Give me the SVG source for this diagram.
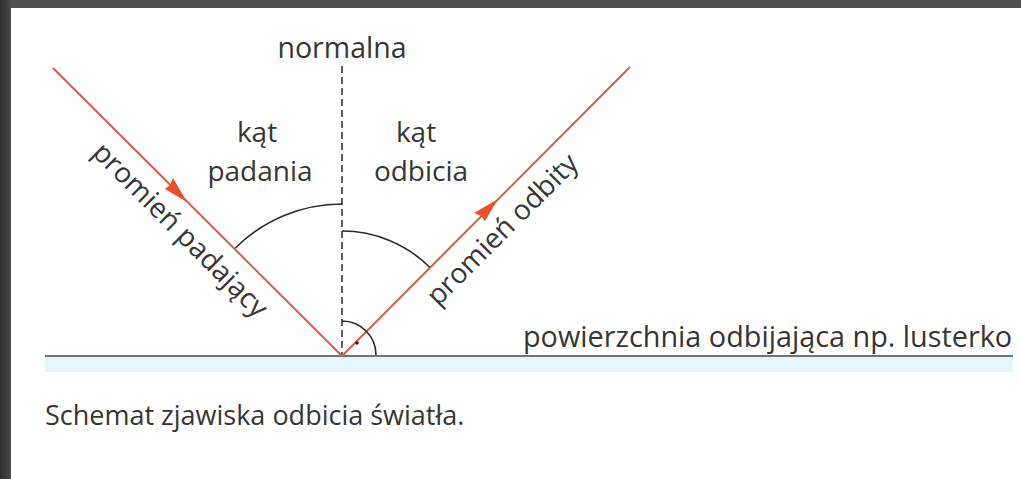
<svg xmlns="http://www.w3.org/2000/svg" width="1021" height="479" viewBox="0 0 1021 479">
  <defs>
    <linearGradient id="edge" x1="0" y1="0" x2="1" y2="0">
      <stop offset="0" stop-color="#2e2e2e"/>
      <stop offset="1" stop-color="#4a4a4a"/>
    </linearGradient>
    <style>
      .lbl { font-family: "Open Sans", "Noto Sans", sans-serif; font-size: 28px; fill: #363636; }
      .ray { stroke: #d0604a; stroke-width: 2; fill: none; }
      .arc { stroke: #2b2b2b; stroke-width: 1.6; fill: none; }
      .head { fill: #e8502a; }
    </style>
  </defs>
  <rect width="1021" height="479" fill="#ffffff"/>
  <rect x="0" y="0" width="1021" height="8" fill="#505050"/>
  <rect x="0" y="0" width="11" height="479" fill="url(#edge)"/>

  <g id="surface">
    <rect x="45" y="357" width="968" height="15" fill="#e4f5fb"/>
    <line x1="45" y1="356" x2="1013" y2="356" stroke="#444444" stroke-width="1.6"/>
    <text class="lbl" x="523" y="347" style="font-size:28.8px">powierzchnia odbijająca np. lusterko</text>
  </g>

  <g id="normal">
    <line x1="342" y1="66" x2="342" y2="355" stroke="#3a3a3a" stroke-width="1.6" stroke-dasharray="7 4"/>
    <text class="lbl" x="342" y="58" text-anchor="middle" style="font-size:28.5px">normalna</text>
  </g>

  <g id="connectors">
    <line class="ray" x1="53" y1="68" x2="342" y2="356"/>
    <path class="head" d="M187,202 L165,189 L170,185 L173,178 Z"/>
    <line class="ray" x1="342" y1="356" x2="630" y2="67"/>
    <path class="head" d="M498,199 L485,221 L481,216 L474,213 Z"/>
  </g>

  <g id="angle-incidence">
    <path class="arc" d="M342,204 A151,151 0 0 0 235.2,248.2"/>
    <text class="lbl" x="257" y="142" text-anchor="middle">kąt</text>
    <text class="lbl" x="260" y="181" text-anchor="middle">padania</text>
  </g>

  <g id="angle-reflection">
    <path class="arc" d="M342,231 A124,124 0 0 1 429.7,267.3"/>
    <text class="lbl" x="416" y="142" text-anchor="middle">kąt</text>
    <text class="lbl" x="421" y="181" text-anchor="middle">odbicia</text>
  </g>

  <g id="right-angle">
    <path class="arc" d="M342,321 A34,34 0 0 1 376,355"/>
    <circle cx="357" cy="343" r="1.8" fill="#222222"/>
  </g>

  <g id="incident-ray-label">
    <text class="lbl" transform="translate(91,154) rotate(45)">promień padający</text>
  </g>

  <g id="reflected-ray-label">
    <text class="lbl" transform="translate(438,307) rotate(-45)">promień odbity</text>
  </g>

  <g id="caption">
    <text class="lbl" x="45" y="425" style="font-size:27px">Schemat zjawiska odbicia światła.</text>
  </g>
</svg>
